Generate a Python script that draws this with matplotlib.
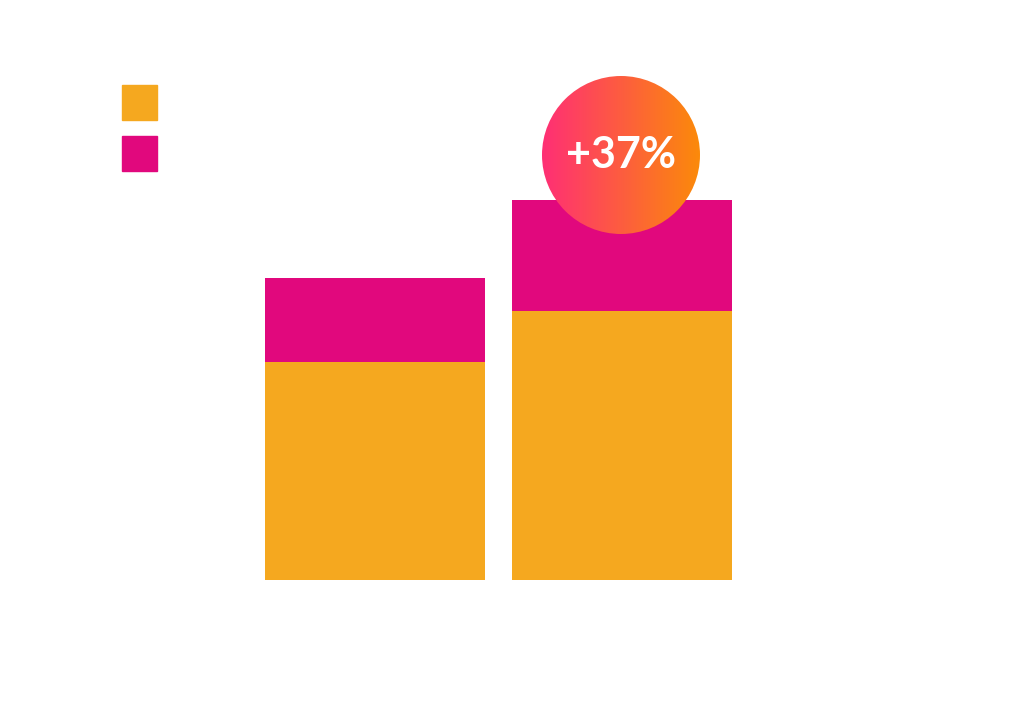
import numpy as np
import matplotlib
matplotlib.use("Agg")
import matplotlib.pyplot as plt
from matplotlib.patches import Circle, Rectangle

categories = ["A", "B"]
base_values = [218, 269]
top_values = [84, 111]
badge_label = "+37%"

ORANGE = "#F5A81F"
MAGENTA = "#E1087D"

fig = plt.figure(figsize=(10.24, 7.04), dpi=100)
ax = fig.add_axes([0, 0, 1, 1])
ax.set_xlim(0, 1024)
ax.set_ylim(-124, 580)
ax.axis("off")

x = [375, 621.5]
ax.bar(x, base_values, width=220, color=ORANGE)
ax.bar(x, top_values, bottom=base_values, width=220, color=MAGENTA)

# legend squares
ax.add_patch(Rectangle((122, 580 - 120), 35, 35, color=ORANGE))
ax.add_patch(Rectangle((122, 580 - 171), 35, 35, color=MAGENTA))

# gradient badge
cx, cy, r = 621, 580 - 155, 79
grad = np.linspace(0, 1, 256).reshape(1, -1)
from matplotlib.colors import LinearSegmentedColormap
cmap = LinearSegmentedColormap.from_list("g", ["#FF2F75", "#FB8A0A"])
im = ax.imshow(grad, cmap=cmap, extent=[cx - r, cx + r, cy - r, cy + r], aspect="auto", zorder=3)
circ = Circle((cx, cy), r, transform=ax.transData, facecolor="none", edgecolor="none")
ax.add_patch(circ)
im.set_clip_path(circ)
ax.text(cx, cy, badge_label, ha="center", va="center", color="white",
        fontsize=31, fontweight="bold", family="Lato", zorder=4)

fig.savefig("out.png", dpi=100)
